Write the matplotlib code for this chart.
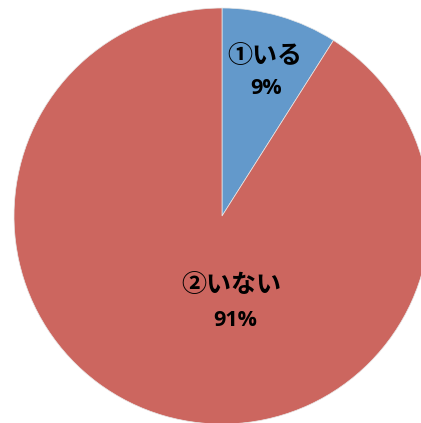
import matplotlib
matplotlib.use('Agg')
import matplotlib.pyplot as plt

plt.rcParams['font.family'] = ['Noto Sans CJK JP', 'DejaVu Sans']

# data
labels = ['①いる', '②いない']
values = [9, 91]
colors = ['#6399CB', '#CC665F']

fig = plt.figure(figsize=(4.21, 4.23), dpi=100)
ax = fig.add_axes([0, 0, 1, 1])

ax.pie(values, colors=colors, startangle=90, counterclock=False, radius=1,
       wedgeprops=dict(linewidth=0.5, edgecolor='#e8e8e8'))

# label placement (in pie radius units)
name_pos = [(0.207, 0.769), (0.043, -0.332)]
pct_pos = [(0.212, 0.611), (0.0625, -0.50)]
for lab, v, (nx, ny), (px, py) in zip(labels, values, name_pos, pct_pos):
    ax.text(nx, ny, lab, ha='center', va='center', fontsize=18, fontweight='bold')
    ax.text(px, py, f'{v}%', ha='center', va='center', fontsize=15.5, fontweight='bold',
            family=['Open Sans', 'DejaVu Sans'])

# pie centre at (222, 216) px from top-left, radius 208 px
ax.set_xlim(-222 / 208, (421 - 222) / 208)
ax.set_ylim(-(423 - 216) / 208, 216 / 208)
ax.set_aspect('equal')
ax.axis('off')

fig.savefig('out.png', dpi=100)
